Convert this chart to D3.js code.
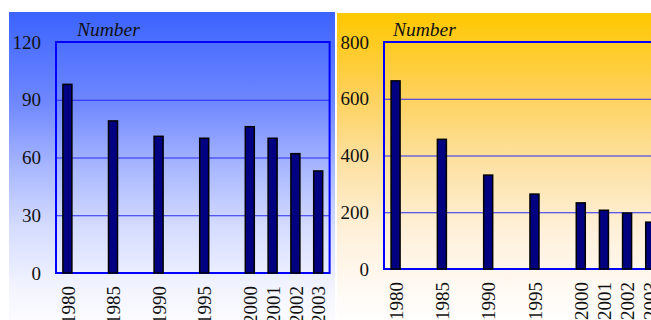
<!DOCTYPE html>
<html>
<head>
<meta charset="utf-8">
<script src="https://cdn.jsdelivr.net/npm/d3@7"></script>
<style>
  body { margin: 0; background: #fff; }
  text { font-family: "Liberation Serif", "Times New Roman", serif; fill: #111; }
</style>
</head>
<body>
<svg id="chart"></svg>
<script>
// data
var years = [1980, 1985, 1990, 1995, 2000, 2001, 2002, 2003];
var countsLeft = [98, 79, 71, 70, 76, 70, 62, 53];
var countsRight = [663, 457, 331, 264, 233, 207, 197, 165];
var ticksLeft = [0, 30, 60, 90, 120];
var ticksRight = [0, 200, 400, 600, 800];
var axisTitle = "Number";

var width = 651;
var height = 320;

var svg = d3.select("#chart").attr("width", width).attr("height", height);
var defs = svg.append("defs");

function addGradient(id, stops) {
    var g = defs.append("linearGradient").attr("id", id)
        .attr("x1", 0).attr("y1", 0).attr("x2", 0).attr("y2", 1);
    stops.forEach(function(s) {
        g.append("stop").attr("offset", s[0]).attr("stop-color", s[1]);
    });
}

addGradient("bgBlue", [[0, "#3b63ff"], [0.3, "#7189ff"], [0.5, "#a7b6ff"], [0.7, "#d5dcff"], [0.88, "#f0f2ff"], [1, "#fcfcff"]]);
addGradient("bgGold", [[0, "#ffc800"], [0.25, "#fed055"], [0.5, "#fde2a6"], [0.72, "#fff1dc"], [0.9, "#fffaf4"], [1, "#fffefd"]]);

function drawPanel(cfg) {
    var g = svg.append("g");

    g.append("rect")
        .attr("x", cfg.bx).attr("y", cfg.by)
        .attr("width", cfg.bw).attr("height", height - cfg.by)
        .attr("fill", "url(#" + cfg.grad + ")");

    var unit = cfg.unit;
    // earlier years sit two units apart, recent ones one unit apart
    var x = d3.scaleLinear()
        .domain([1978.75, 2000, 2003.5])
        .range([cfg.left, cfg.left + 8.5 * unit, cfg.left + 12 * unit]);
    var y = d3.scaleLinear().domain(cfg.yDomain).range([cfg.bottom, cfg.top]);
    var plotW = 12 * unit;

    var yAxis = g.append("g")
        .attr("transform", "translate(" + cfg.left + ",0)")
        .call(d3.axisLeft(y).tickValues(cfg.ticks).tickSize(-plotW).tickPadding(15));
    yAxis.select(".domain").remove();
    yAxis.selectAll("line").attr("stroke", "#2a2af2").attr("stroke-width", 1);
    yAxis.selectAll("text")
        .attr("font-size", 19)
        .attr("font-family", "Liberation Serif")
        .attr("fill", "#111");

    g.append("rect")
        .attr("x", cfg.left).attr("y", cfg.top)
        .attr("width", plotW).attr("height", cfg.bottom - cfg.top)
        .attr("fill", "none")
        .attr("stroke", "#0000ff")
        .attr("stroke-width", 2);

    g.selectAll(".bar")
        .data(cfg.values)
        .enter().append("rect")
        .attr("class", "bar")
        .attr("x", function(d, i) { return x(years[i]) - 4.5; })
        .attr("y", function(d) { return y(d); })
        .attr("width", 9)
        .attr("height", function(d) { return cfg.bottom - y(d); })
        .attr("fill", "#000080")
        .attr("stroke", "#000")
        .attr("stroke-width", 1.5);

    var xAxis = g.append("g")
        .attr("transform", "translate(0," + cfg.bottom + ")")
        .call(d3.axisBottom(x).tickValues(years).tickSize(0).tickFormat(d3.format("d")));
    xAxis.select(".domain").remove();
    xAxis.selectAll("text")
        .attr("font-size", 19)
        .attr("font-family", "Liberation Serif")
        .attr("fill", "#111")
        .attr("transform", "rotate(-90)")
        .attr("text-anchor", "end")
        .attr("x", -cfg.labelGap)
        .attr("y", 0)
        .attr("dy", "0.35em");

    g.append("text")
        .attr("x", cfg.left + cfg.titleDx)
        .attr("y", 36)
        .attr("font-size", 19.5)
        .attr("font-style", "italic")
        .text(axisTitle);
}

drawPanel({ bx: 9, by: 12, bw: 326, grad: "bgBlue", left: 56, top: 42, bottom: 273,
            unit: 22.8, yDomain: [0, 120], ticks: ticksLeft, values: countsLeft,
            labelGap: 13, titleDx: 21 });
drawPanel({ bx: 337, by: 13, bw: 314, grad: "bgGold", left: 384, top: 42, bottom: 269,
            unit: 23.15, yDomain: [0, 800], ticks: ticksRight, values: countsRight,
            labelGap: 13, titleDx: 9 });
</script>
</body>
</html>
